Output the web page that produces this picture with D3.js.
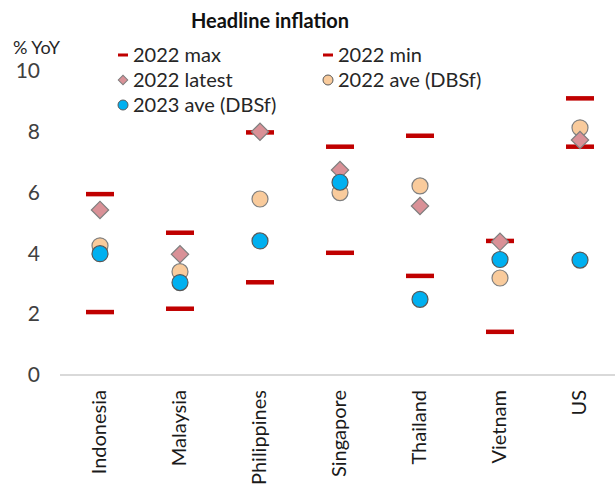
<!DOCTYPE html>
<html><head><meta charset="utf-8">
<script src="https://cdn.jsdelivr.net/npm/d3@7"></script>
<style>
html,body{margin:0;padding:0;background:#fff;}
text{font-family:Lato,"Open Sans",sans-serif;fill:#262626;}
</style></head>
<body><svg id="c" width="615" height="493"></svg>
<script>
const categories = ["Indonesia","Malaysia","Philippines","Singapore","Thailand","Vietnam","US"];
const max2022    = [5.95, 4.68, 7.98, 7.51, 7.87, 4.41, 9.10];
const min2022    = [2.07, 2.18, 3.05, 4.02, 3.26, 1.42, 7.51];
const latest2022 = [5.43, 3.97, 8.00, 6.74, 5.56, 4.38, 7.73];
const ave2022    = [4.25, 3.40, 5.79, 6.00, 6.22, 3.19, 8.13];
const ave2023    = [3.99, 3.04, 4.41, 6.34, 2.49, 3.80, 3.78];
const yTicks = [0, 2, 4, 6, 8, 10];

const svg = d3.select("#c");
const x = d3.scaleBand().domain(categories).range([60, 620]);
const y = d3.scaleLinear().domain([0, 10]).range([375, 71]);
const cx = d => x(d) + x.bandwidth()/2;

// title
svg.append("text").attr("x", 270).attr("y", 28).attr("text-anchor","middle")
  .style("font-weight","bold").style("font-size","20px").style("fill","#111").text("Headline inflation");
svg.append("text").attr("x", 13).attr("y", 54).style("font-size","18px").text("% YoY");

// y axis labels
const ya = svg.append("g").attr("transform","translate(40,0)")
  .call(d3.axisLeft(y).tickValues(yTicks).tickSize(0).tickPadding(0));
ya.select(".domain").remove();
ya.selectAll("text").style("font-size","21px").style("font-family","Lato,sans-serif").style("fill","#404040");

// x axis
const xa = svg.append("g").attr("transform","translate(0,375)")
  .call(d3.axisBottom(x).tickSize(0));
xa.select(".domain").attr("stroke","#d9d9d9").attr("stroke-width",2).attr("d","M60,0H615");
xa.selectAll("text").style("font-size","20px").style("font-family","Lato,sans-serif")
  .style("fill","#1a1a1a")
  .attr("text-anchor","end").attr("dy","0.35em")
  .attr("transform","translate(-1,15) rotate(-90)").attr("x",0).attr("y",0);

const g = svg.append("g");
const dashW = 28, dashH = 4.5;
function dashes(vals){
  g.selectAll(null).data(categories).enter().append("rect")
    .attr("x", d => cx(d) - dashW/2).attr("y", (d,i) => y(vals[i]) - dashH/2)
    .attr("width", dashW).attr("height", dashH).attr("fill","#c00000");
}
dashes(max2022); dashes(min2022);

g.selectAll(null).data(categories).enter().append("circle")
  .attr("cx", cx).attr("cy", (d,i) => y(ave2022[i])).attr("r", 8)
  .attr("fill","#f9cb9c").attr("stroke","#7f7f7f").attr("stroke-width",1.2);

const dia = d3.symbol().type(d3.symbolSquare).size(150);
g.selectAll(null).data(categories).enter().append("path")
  .attr("d", dia)
  .attr("transform", (d,i) => `translate(${cx(d)},${y(latest2022[i])}) rotate(45)`)
  .attr("fill","#d99197").attr("stroke","#7f7f7f").attr("stroke-width",1.2);

g.selectAll(null).data(categories).enter().append("circle")
  .attr("cx", cx).attr("cy", (d,i) => y(ave2023[i])).attr("r", 8)
  .attr("fill","#00b0f0").attr("stroke","#595959").attr("stroke-width",1.2);

// legend
const legend = [
  {label:"2022 max", type:"dash", x:118, y:55},
  {label:"2022 min", type:"dash", x:323, y:55},
  {label:"2022 latest", type:"dia", x:118, y:80},
  {label:"2022 ave (DBSf)", type:"c1", x:323, y:80},
  {label:"2023 ave (DBSf)", type:"c2", x:118, y:105}
];
const lg = svg.append("g");
legend.forEach(l => {
  const mx = l.x + 5;
  if (l.type === "dash") lg.append("rect").attr("x", l.x).attr("y", l.y-1.5).attr("width",10).attr("height",3).attr("fill","#c00000");
  else if (l.type === "dia") lg.append("path").attr("d", d3.symbol().type(d3.symbolSquare).size(45))
      .attr("transform",`translate(${mx},${l.y}) rotate(45)`).attr("fill","#d99197").attr("stroke","#7f7f7f");
  else lg.append("circle").attr("cx",mx).attr("cy",l.y).attr("r",5)
      .attr("fill", l.type==="c1" ? "#f9cb9c" : "#00b0f0").attr("stroke","#595959");
  lg.append("text").attr("x", l.x + 15).attr("y", l.y).attr("dy","0.36em")
    .style("font-size","20px").text(l.label);
});
</script></body></html>
